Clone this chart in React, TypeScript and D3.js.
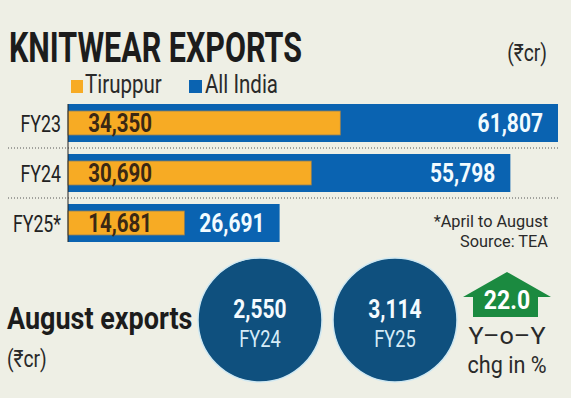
import React, { useEffect } from 'react';
import * as d3 from 'd3';

// Knitwear exports, Rs crore
const years = ['FY23', 'FY24', 'FY25*'];
const tiruppur = [34350, 30690, 14681];
const allIndia = [61807, 55798, 26691];

// August exports, Rs crore
const augustYears = ['FY24', 'FY25'];
const augustValues = [2550, 3114];
const yoyChange = 22.0;

const W = 571;
const H = 398;
const FONT = "Roboto, 'DejaVu Sans', sans-serif";
const BG = '#eeefe5';
const BLUE = '#0a63b1';
const ORANGE = '#f7ab24';
const NAVY = '#0f507e';
const GREEN = '#1b8a40';
const INK = '#1c1c1c';

const fmt = d3.format(',');

interface TxtProps {
  x: number;
  y: number;
  sx?: number;
  size: number;
  weight?: number | string;
  fill?: string;
  anchor?: 'start' | 'middle' | 'end';
  children: React.ReactNode;
}

const Txt: React.FC<TxtProps> = ({ x, y, sx = 1, size, weight = 400, fill = INK, anchor = 'start', children }) => (
  <text
    transform={`translate(${x},${y}) scale(${sx},1)`}
    fontFamily={FONT}
    fontSize={size}
    fontWeight={weight}
    fill={fill}
    textAnchor={anchor}
  >
    {children}
  </text>
);

const App: React.FC = () => {
  useEffect(() => {
    document.body.style.margin = '0';
  }, []);

  // bar scales
  const x = d3.scaleLinear().domain([0, d3.max(allIndia)!]).range([68, 558]);
  const y = d3.scaleBand<string>().domain(years).range([98, 248]).paddingInner(0.24).paddingOuter(0.12);
  const bw = y.bandwidth();

  // circles for August
  const cx = d3.scalePoint<string>().domain(augustYears).range([260, 395]);
  const cy = 320;
  const r = 62;

  // arrow around a centre point
  const ax = 507;
  const arrow = d3.line()([
    [ax, 272], [ax + 44, 297], [ax + 31, 297], [ax + 31, 317],
    [ax - 34, 317], [ax - 34, 297], [ax - 44, 297]
  ]) + 'Z';

  return (
    <svg width={W} height={H} style={{ display: 'block' }}>
      <rect width={W} height={H} fill={BG} />

      {/* title */}
      <text x={9} y={62} fontFamily={FONT} fontSize={43} fontWeight={700} fill={INK}
        textLength={293} lengthAdjust="spacingAndGlyphs">KNITWEAR EXPORTS</text>
      <Txt x={547} y={61} size={24} sx={0.8} anchor="end" fill="#2a2a2a">(₹cr)</Txt>

      {/* legend */}
      <rect x={71} y={80} width={12} height={13} fill={ORANGE} />
      <Txt x={85} y={93} size={25} sx={0.82} fill="#2a2a2a">Tiruppur</Txt>
      <rect x={189} y={80} width={13} height={13} fill={BLUE} />
      <Txt x={205} y={93} size={25} sx={0.82} fill="#2a2a2a">All India</Txt>

      {/* separators */}
      {years.slice(0, -1).map(c => (
        <line key={c} x1={8} x2={559} y1={y(c)! + bw + 6} y2={y(c)! + bw + 6}
          stroke="#555" strokeWidth={1} strokeDasharray="1,2" />
      ))}

      {/* bars */}
      {years.map((c, i) => {
        const top = y(c)!;
        return (
          <g key={c}>
            <rect x={x(0)} y={top} width={x(allIndia[i]) - x(0)} height={bw} fill={BLUE} />
            <rect x={x(0)} y={top + 7} width={x(tiruppur[i]) - x(0)} height={bw - 14}
              fill={ORANGE} stroke="#8f7f5a" strokeWidth={0.8} />
            <Txt x={61} y={top + bw / 2 + 9} size={24} sx={0.74} anchor="end" fill="#222">{c}</Txt>
            <Txt x={152} y={top + bw / 2 + 9} size={25} sx={0.82} weight={700} anchor="end" fill="#3a2814">
              {fmt(tiruppur[i])}
            </Txt>
            <Txt x={x(allIndia[i]) - 15} y={top + bw / 2 + 9} size={25} sx={0.84} weight={700} anchor="end" fill="#f2fbff">
              {fmt(allIndia[i])}
            </Txt>
          </g>
        );
      })}
      <line x1={x(0)} x2={x(0)} y1={y(years[0])!} y2={y(years[years.length - 1])! + bw} stroke="#222" strokeWidth={1} />

      {/* notes */}
      <Txt x={548} y={227} size={17} sx={0.96} anchor="end" fill="#2a2a2a">*April to August</Txt>
      <Txt x={548} y={247} size={17} sx={0.96} anchor="end" fill="#2a2a2a">Source: TEA</Txt>

      {/* August exports */}
      <Txt x={7} y={329} size={31} sx={0.87} weight={700} fill={INK}>August exports</Txt>
      <Txt x={7} y={367} size={24} sx={0.8} fill="#2a2a2a">(₹cr)</Txt>

      {augustYears.map((yr, i) => (
        <g key={yr}>
          <circle cx={cx(yr)} cy={cy} r={r} fill={NAVY} stroke="#cfe8f2" strokeWidth={1.5} />
          <Txt x={cx(yr)!} y={318} size={25} sx={0.84} weight={700} anchor="middle" fill="#f4fbff">
            {fmt(augustValues[i])}
          </Txt>
          <Txt x={cx(yr)!} y={347} size={24} sx={0.76} anchor="middle" fill="#d6ecf8">{yr}</Txt>
        </g>
      ))}

      {/* YoY arrow */}
      <path d={arrow} fill={GREEN} />
      <Txt x={ax} y={309} size={25} sx={0.92} weight={700} anchor="middle" fill="#ffffff">{yoyChange.toFixed(1)}</Txt>
      <Txt x={ax} y={344} size={24} sx={1.05} anchor="middle" fill="#2a2a2a">Y–o–Y</Txt>
      <Txt x={ax} y={373} size={24} sx={0.9} anchor="middle" fill="#2a2a2a">chg in %</Txt>
    </svg>
  );
};

export default App;
